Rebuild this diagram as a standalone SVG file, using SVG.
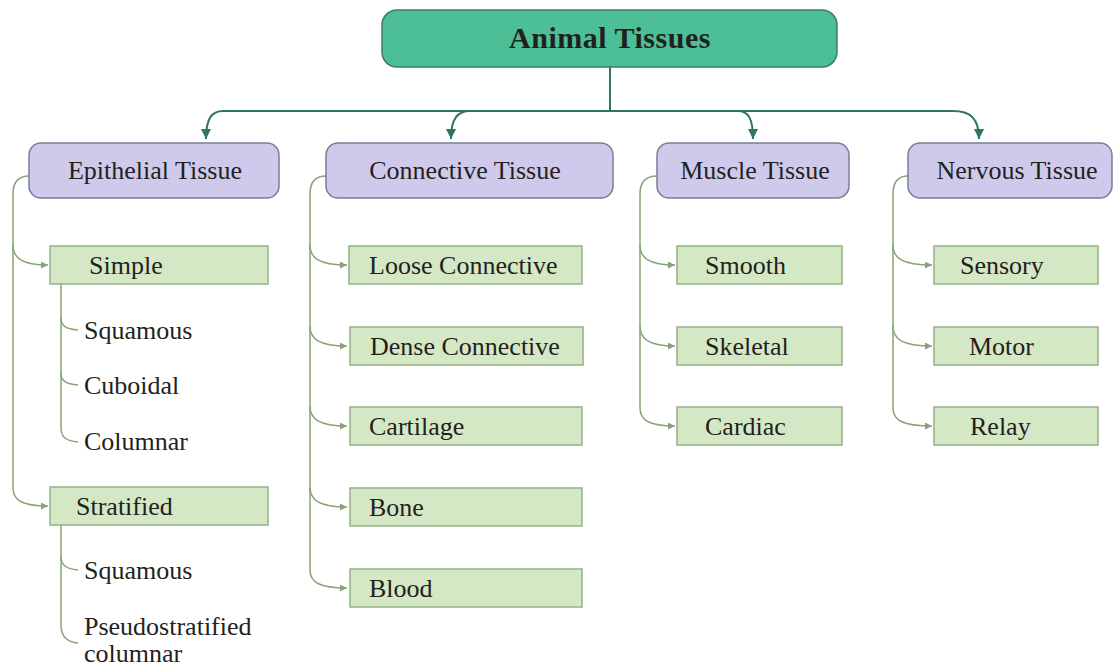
<svg xmlns="http://www.w3.org/2000/svg" width="1113" height="670" viewBox="0 0 1113 670" font-family="'Liberation Serif', Tinos, 'Times New Roman', 'DejaVu Serif', serif">
<style>
text{fill:#231f20}
.t{font-size:30px;font-weight:bold;letter-spacing:0.5px;text-anchor:middle}
.h{font-size:26px;text-anchor:middle}
.l{font-size:26px}
.top{fill:#4cbf96;stroke:#3d7c64;stroke-width:1.5}
.cat{fill:#cfcaeb;stroke:#7a7c96;stroke-width:1.5}
.leaf{fill:#d4e8c6;stroke:#93b286;stroke-width:1.5}
.main{fill:none;stroke:#2f7560;stroke-width:2}
.br{fill:none;stroke:#88a476;stroke-width:1.5}
</style>
<defs>
<marker id="ah" viewBox="0 0 10 10" refX="10" refY="5" markerWidth="11" markerHeight="10" markerUnits="userSpaceOnUse" orient="auto"><path d="M0,0 L10,5 L0,10 z" fill="#2f7560"/></marker>
<marker id="ab" viewBox="0 0 10 10" refX="10" refY="5" markerWidth="8" markerHeight="7" markerUnits="userSpaceOnUse" orient="auto"><path d="M0,0 L10,5 L0,10 z" fill="#88a476"/></marker>
</defs>
<g id="connectors">
<path class="main" d="M610,67 V111"/>
<path class="main" d="M223,111 H953"/>
<path class="main" d="M223,111 C212,111 206,118 206,139" marker-end="url(#ah)"/>
<path class="main" d="M470,111 C458,111 451,118 451,139" marker-end="url(#ah)"/>
<path class="main" d="M738,111 C748,111 753,118 753,139" marker-end="url(#ah)"/>
<path class="main" d="M953,111 C970,111 979,118 979,139" marker-end="url(#ah)"/>
<path class="br" d="M29,176 C18,176 13,182 13,194 V488 C13,500 22,506 48,506" marker-end="url(#ab)"/>
<path class="br" d="M13,245 C13,258 22,265 48,265" marker-end="url(#ab)"/>
<path class="br" d="M61,284 V428 C61,437 66,441 78,442"/>
<path class="br" d="M61,318 C61,326 66,329 78,330"/>
<path class="br" d="M61,373 C61,381 66,384 78,385"/>
<path class="br" d="M61,525 V625 C61,636 66,642 78,643"/>
<path class="br" d="M61,556 C61,565 66,569 78,570"/>
<path class="br" d="M326,176 C315,176 310,182 310,194 V570 C310,582 319,588 347,588" marker-end="url(#ab)"/>
<path class="br" d="M310,245 C310,258 319,265 347,265" marker-end="url(#ab)"/>
<path class="br" d="M310,326 C310,339 319,346 347,346" marker-end="url(#ab)"/>
<path class="br" d="M310,406 C310,419 319,426 347,426" marker-end="url(#ab)"/>
<path class="br" d="M310,487 C310,500 319,507 347,507" marker-end="url(#ab)"/>
<path class="br" d="M657,176 C646,176 640,182 640,194 V408 C640,420 649,426 675,426" marker-end="url(#ab)"/>
<path class="br" d="M640,245 C640,258 649,265 675,265" marker-end="url(#ab)"/>
<path class="br" d="M640,326 C640,339 649,346 675,346" marker-end="url(#ab)"/>
<path class="br" d="M908,176 C898,176 893,182 893,194 V408 C893,420 902,426 932,426" marker-end="url(#ab)"/>
<path class="br" d="M893,245 C893,258 902,265 932,265" marker-end="url(#ab)"/>
<path class="br" d="M893,326 C893,339 902,346 932,346" marker-end="url(#ab)"/>
</g>
<g id="animal-tissues"><rect class="top" x="382" y="10" width="455" height="57" rx="15"/><text class="t" x="610" y="48">Animal Tissues</text></g>
<g id="epithelial"><rect class="cat" x="29" y="143" width="250" height="55" rx="12"/><text class="h" x="155" y="179">Epithelial Tissue</text></g>
<g id="connective"><rect class="cat" x="326" y="143" width="287" height="55" rx="12"/><text class="h" x="465" y="179">Connective Tissue</text></g>
<g id="muscle"><rect class="cat" x="657" y="143" width="192" height="55" rx="12"/><text class="h" x="755" y="179">Muscle Tissue</text></g>
<g id="nervous"><rect class="cat" x="908" y="143" width="204" height="55" rx="12"/><text class="h" x="1017" y="179">Nervous Tissue</text></g>
<g id="simple"><rect class="leaf" x="50" y="246" width="218" height="38"/><text class="l" x="89" y="274">Simple</text></g>
<g id="simple-squamous"><text class="l" x="84" y="339">Squamous</text></g>
<g id="simple-cuboidal"><text class="l" x="84" y="394">Cuboidal</text></g>
<g id="simple-columnar"><text class="l" x="84" y="450">Columnar</text></g>
<g id="stratified"><rect class="leaf" x="50" y="487" width="218" height="38"/><text class="l" x="76" y="515">Stratified</text></g>
<g id="strat-squamous"><text class="l" x="84" y="579">Squamous</text></g>
<g id="pseudostratified"><text class="l" x="84" y="635">Pseudostratified</text><text class="l" x="84" y="662">columnar</text></g>
<g id="loose"><rect class="leaf" x="349" y="246" width="233" height="38"/><text class="l" x="369" y="274">Loose Connective</text></g>
<g id="dense"><rect class="leaf" x="350" y="327" width="233" height="38"/><text class="l" x="370" y="355">Dense Connective</text></g>
<g id="cartilage"><rect class="leaf" x="350" y="407" width="232" height="38"/><text class="l" x="369" y="435">Cartilage</text></g>
<g id="bone"><rect class="leaf" x="350" y="488" width="232" height="38"/><text class="l" x="369" y="516">Bone</text></g>
<g id="blood"><rect class="leaf" x="350" y="569" width="232" height="38"/><text class="l" x="369" y="597">Blood</text></g>
<g id="smooth"><rect class="leaf" x="677" y="246" width="165" height="38"/><text class="l" x="705" y="274">Smooth</text></g>
<g id="skeletal"><rect class="leaf" x="677" y="327" width="165" height="38"/><text class="l" x="705" y="355">Skeletal</text></g>
<g id="cardiac"><rect class="leaf" x="677" y="407" width="165" height="38"/><text class="l" x="705" y="435">Cardiac</text></g>
<g id="sensory"><rect class="leaf" x="934" y="246" width="164" height="38"/><text class="l" x="960" y="274">Sensory</text></g>
<g id="motor"><rect class="leaf" x="934" y="327" width="164" height="38"/><text class="l" x="969" y="355">Motor</text></g>
<g id="relay"><rect class="leaf" x="934" y="407" width="164" height="38"/><text class="l" x="970" y="435">Relay</text></g>
</svg>
